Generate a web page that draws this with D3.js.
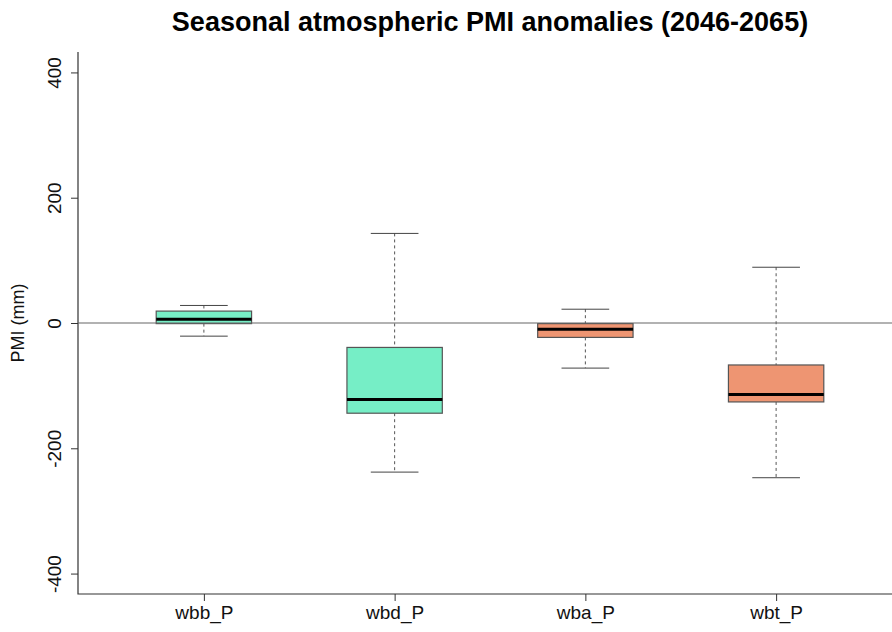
<!DOCTYPE html>
<html>
<head>
<meta charset="utf-8">
<script src="https://cdn.jsdelivr.net/npm/d3@7"></script>
<style>
  body { margin: 0; background: #fff; }
  text { font-family: "Liberation Sans", Arial, sans-serif; }
</style>
</head>
<body>
<svg id="chart"></svg>
<script>
// box stats
const categories = ["wbb_P", "wbd_P", "wba_P", "wbt_P"];
const whiskerLow = [-21, -238, -72, -247];
const q1 = [-1, -144, -23, -126];
const median = [6, -122, -10, -114];
const q3 = [19, -39, -1, -67];
const whiskerHigh = [28, 143, 22, 89];
const boxColors = ["#76EEC6", "#76EEC6", "#EE9572", "#EE9572"];
const yTicks = [-400, -200, 0, 200, 400];

const data = categories.map((c, i) => ({
  name: c, lo: whiskerLow[i], q1: q1[i], med: median[i], q3: q3[i], hi: whiskerHigh[i], color: boxColors[i]
}));

const width = 892, height = 632;
let margin = ({top: 52, right: -10, bottom: 38, left: 78});

const svg = d3.select("#chart").attr("width", width).attr("height", height);

let x = d3.scaleLinear()
  .domain([0.34, 4.66])
  .range([margin.left, width - margin.right]);

let y = d3.scaleLinear()
  .domain([-432.6, 432.6])
  .range([height - margin.bottom, margin.top]);

const boxW = x(1.25) - x(1);
const capW = x(1.125) - x(1);

// axes (L shaped box)
svg.append("path")
  .attr("d", `M${margin.left},${margin.top}V${height - margin.bottom}H${width}`)
  .attr("fill", "none").attr("stroke", "#333").attr("stroke-width", 1.2);

svg.append("g")
  .attr("transform", `translate(${margin.left},0)`)
  .call(d3.axisLeft(y).tickValues(yTicks).tickSize(7).tickFormat(d => String(d)))
  .call(g => g.select(".domain").remove())
  .call(g => g.selectAll(".tick line").attr("stroke", "#333"))
  .call(g => g.selectAll(".tick text")
    .attr("font-size", 19).attr("fill", "#111")
    .attr("text-anchor", "middle")
    .attr("transform", "rotate(-90)")
    .attr("x", 0).attr("y", -17).attr("dy", 0)
    .attr("dominant-baseline", "auto"));

svg.append("g")
  .attr("transform", `translate(0,${height - margin.bottom})`)
  .call(d3.axisBottom(x).tickValues(d3.range(1, categories.length + 1)).tickSize(7)
    .tickFormat(i => categories[i - 1]))
  .call(g => g.select(".domain").remove())
  .call(g => g.selectAll(".tick line").attr("stroke", "#333"))
  .call(g => g.selectAll(".tick text").attr("font-size", 19).attr("fill", "#111").attr("y", 12));

// axis label + title
svg.append("text")
  .attr("transform", `translate(24,${y(0)}) rotate(-90)`)
  .attr("text-anchor", "middle").attr("font-size", 18).attr("fill", "#111")
  .text("PMI (mm)");

svg.append("text")
  .attr("x", (x(0.34) + x(4.66)) / 2).attr("y", 31)
  .attr("text-anchor", "middle").attr("font-size", 27).attr("font-weight", "bold")
  .text("Seasonal atmospheric PMI anomalies (2046-2065)");

// boxes
const g = svg.append("g");
const box = g.selectAll("g.box").data(data).join("g").attr("class", "box");

box.append("line")
  .attr("x1", (d, i) => x(i + 1)).attr("x2", (d, i) => x(i + 1))
  .attr("y1", d => y(d.hi)).attr("y2", d => y(d.q3))
  .attr("stroke", "#555").attr("stroke-dasharray", "3,3");
box.append("line")
  .attr("x1", (d, i) => x(i + 1)).attr("x2", (d, i) => x(i + 1))
  .attr("y1", d => y(d.q1)).attr("y2", d => y(d.lo))
  .attr("stroke", "#555").attr("stroke-dasharray", "3,3");
box.selectAll("line.cap").data((d, i) => [{v: d.hi, i}, {v: d.lo, i}]).join("line")
  .attr("class", "cap")
  .attr("x1", d => x(d.i + 1) - capW).attr("x2", d => x(d.i + 1) + capW)
  .attr("y1", d => y(d.v)).attr("y2", d => y(d.v))
  .attr("stroke", "#444");
box.append("rect")
  .attr("x", (d, i) => x(i + 1) - boxW)
  .attr("y", d => y(d.q3))
  .attr("width", 2 * boxW)
  .attr("height", d => y(d.q1) - y(d.q3))
  .attr("fill", d => d.color).attr("stroke", "#555").attr("stroke-width", 1.2);
box.append("line")
  .attr("x1", (d, i) => x(i + 1) - boxW).attr("x2", (d, i) => x(i + 1) + boxW)
  .attr("y1", d => y(d.med)).attr("y2", d => y(d.med))
  .attr("stroke", "#000").attr("stroke-width", 3);

// zero reference line
svg.append("line")
  .attr("x1", margin.left).attr("x2", width)
  .attr("y1", y(0)).attr("y2", y(0))
  .attr("stroke", "#666").attr("stroke-width", 1.2);
</script>
</body>
</html>
